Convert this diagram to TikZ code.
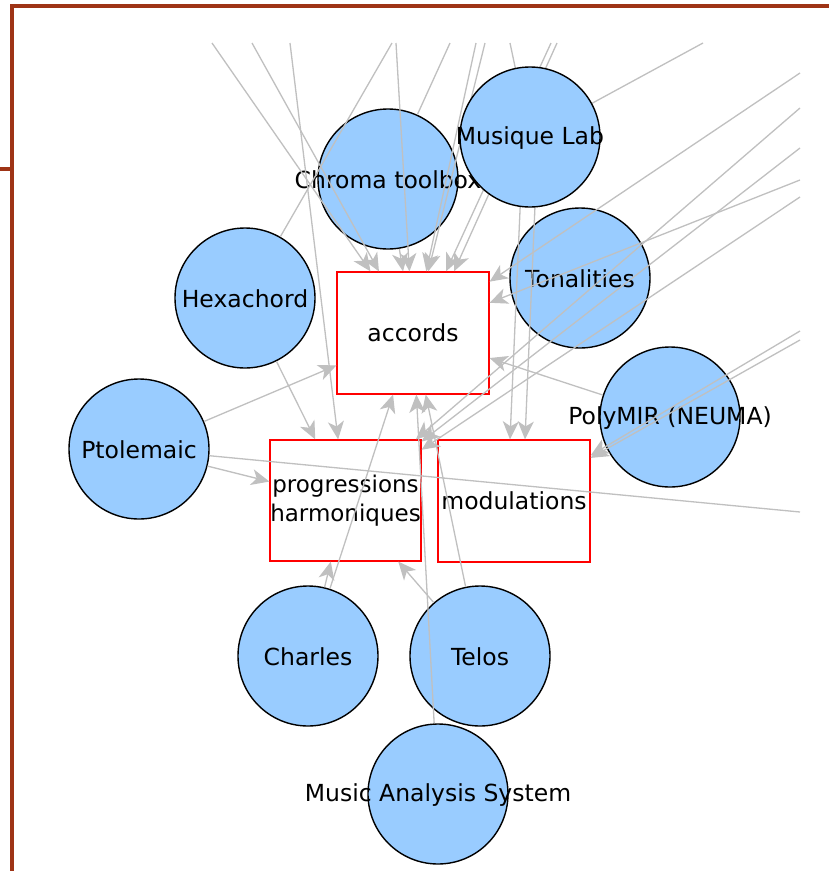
\documentclass[tikz,border=0pt]{standalone}
\usepackage{fontspec}
\setmainfont{DejaVu Sans}
\usetikzlibrary{arrows.meta}
\definecolor{nodeblue}{RGB}{153,204,255}
\definecolor{edgegray}{RGB}{192,192,192}
\definecolor{framered}{RGB}{158,52,22}
\pgfdeclarelayer{nodelayer}
\pgfdeclarelayer{edgelayer}
\pgfsetlayers{nodelayer,edgelayer,main}
\begin{document}
\begin{tikzpicture}[x=1pt,y=-1pt,
  tool/.style={circle,draw=black,line width=1.4pt,fill=nodeblue,minimum size=140pt,inner sep=0pt},
  topic/.style={rectangle,draw=red,line width=1.2pt,fill=white,minimum width=152pt,minimum height=122pt,inner sep=0pt,font=\fontsize{23.5}{29}\selectfont,align=center},
  lbl/.style={font=\fontsize{23.5}{29}\selectfont,inner sep=0pt,align=center,yshift=-1pt},
  link/.style={draw=edgegray,line width=1.3pt,-{Stealth[length=18pt,width=16pt,inset=5pt]}},
  stub/.style={draw=edgegray,line width=1.3pt}]
\useasboundingbox (0,0) rectangle (829,871);

% free ends outside the visible part
\coordinate (t1) at (212,43);
\coordinate (t2) at (252,43);
\coordinate (t3) at (290,43);
\coordinate (t4) at (392,43);
\coordinate (t5) at (396,43);
\coordinate (t6) at (450,43);
\coordinate (t7) at (476,43);
\coordinate (t8) at (485,43);
\coordinate (t9) at (510,43);
\coordinate (t10) at (551,43);
\coordinate (t11) at (557,43);
\coordinate (t12) at (703,43);
\coordinate (r1) at (800,73);
\coordinate (r2) at (800,108);
\coordinate (r3) at (800,148);
\coordinate (r4) at (800,180);
\coordinate (r5) at (800,197);
\coordinate (r6) at (800,331);
\coordinate (r7) at (800,340);
\coordinate (r8) at (800,512);

\begin{pgfonlayer}{nodelayer}
\fill[white] (0,0) rectangle (829,871);
\node[tool,label={[lbl]center:Chroma toolbox}] (chr) at (388,179) {};
\node[tool,label={[lbl]center:Tonalities}] (ton) at (580,278) {};
\node[tool,label={[lbl]center:Hexachord}] (hex) at (245,298) {};
\node[tool,label={[lbl]center:Ptolemaic}] (pto) at (139,449) {};
\node[tool,label={[lbl]center:PolyMIR (NEUMA)}] (pol) at (670,417) {};
\node[tool,label={[lbl]center:Charles}] (cha) at (308,656) {};
\node[tool,label={[lbl]center:Telos}] (tel) at (480,656) {};
\node[tool,label={[lbl]center:Music Analysis System}] (mas) at (438,794) {};
\node[topic] (acc) at (413,333) {accords};
\node[topic,minimum width=151pt,minimum height=121pt,font=\fontsize{23}{29}\selectfont] (pro) at (345.5,500.5) {progressions\\harmoniques};
\node[topic] (mod) at (514,501) {modulations};
\end{pgfonlayer}

\node[tool,label={[lbl]center:Musique Lab}] (ml) at (530,137) {};

\begin{pgfonlayer}{edgelayer}
% into accords
\draw[link] (t1) -- (acc);
\draw[link] (t2) -- (acc);
\draw[link] (t5) -- (acc);
\draw[link] (t7) -- (acc);
\draw[link] (t8) -- (acc);
\draw[link] (t10) -- ([xshift=33pt]acc.north);
\draw[link] (t11) -- ([xshift=41pt]acc.north);
\draw[link] (chr) -- (acc);
\draw[link] (r1) -- (acc);
\draw[link] (r4) -- (acc);
\draw[link] (pol) -- (acc);
\draw[link] (pto) -- (acc);
\draw[link] (cha) -- (acc);
\draw[link] (tel) -- (acc);
\draw[link] (mas) -- (acc);
% into progressions harmoniques
\draw[link] (t3) -- (pro);
\draw[link] (r2) -- (pro);
\draw[link] (r3) -- (pro);
\draw[link] (r5) -- (pro);
\draw[link] (hex) -- (pro);
\draw[link] (pto) -- (pro);
\draw[link] (cha) -- (pro);
\draw[link] (tel) -- (pro);
% into modulations
\draw[link] (r6) -- (mod);
\draw[link] (r7) -- (mod);
\draw[link] (ml.-98) -- ([xshift=-4pt]mod.north);
\draw[link] (ml.-86) -- ([xshift=11pt]mod.north);
% edges leaving the visible part
\draw[stub] (hex) -- (t4);
\draw[stub] (chr) -- (t6);
\draw[stub] (ml) -- (t9);
\draw[stub] (ml) -- (t12);
\draw[stub] (pto) -- (r8);
\end{pgfonlayer}

% frame
\draw[framered,line width=4pt] (10,6) -- (829,6);
\draw[framered,line width=4pt] (12,4) -- (12,871);
\draw[framered,line width=3.5pt] (0,169) -- (14,169);
\end{tikzpicture}
\end{document}
